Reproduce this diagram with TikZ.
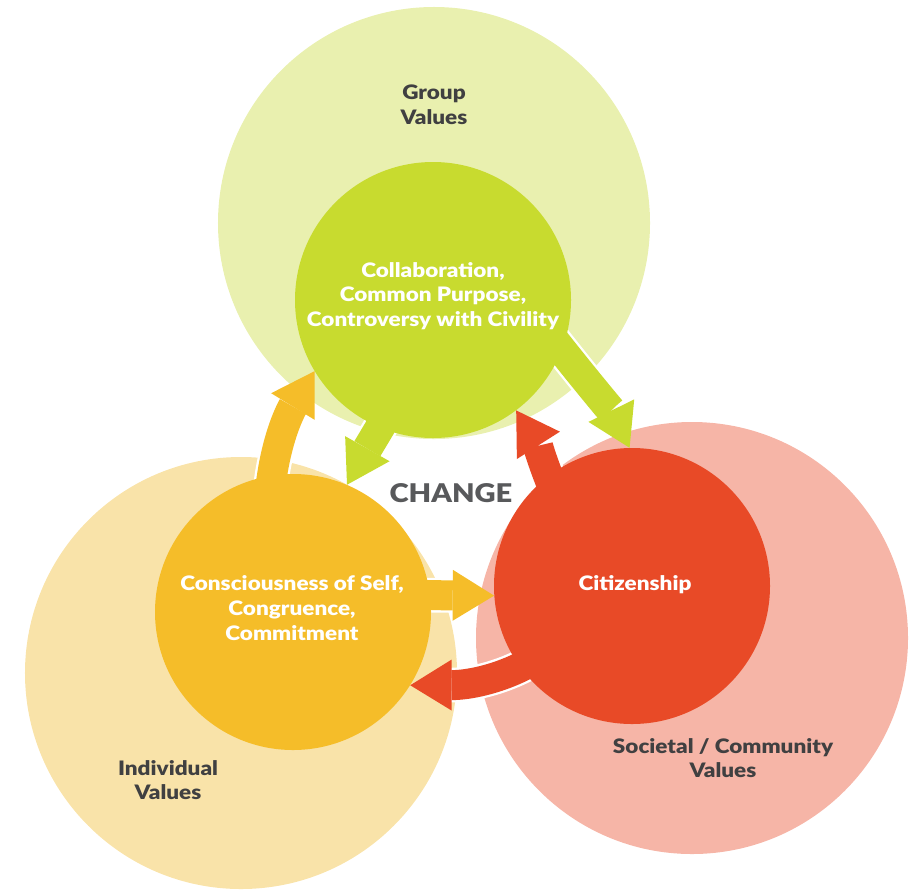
\documentclass[tikz,border=0pt]{standalone}
\usepackage{fontspec}
\setmainfont{Lato}[BoldFont={Lato Black},BoldFeatures={FakeStretch=1.13}]
\usetikzlibrary{arrows.meta, calc}
\definecolor{grpbg}{HTML}{E9F0AF}
\definecolor{indbg}{HTML}{F9E3A9}
\definecolor{socbg}{HTML}{F6B5A7}
\definecolor{collabc}{HTML}{C8DB2F}
\definecolor{selfc}{HTML}{F5BD29}
\definecolor{citzc}{HTML}{E84A27}
\definecolor{lblgray}{HTML}{404041}
\definecolor{changegray}{HTML}{58595B}

\begin{document}
\begin{tikzpicture}[x=0.03cm,y=-0.03cm,
  bigc/.style={circle,inner sep=0pt,minimum size=12.96cm},
  corec/.style={circle,inner sep=0pt,minimum size=8.28cm},
  lbl/.style={align=center,text=lblgray,font=\bfseries\fontsize{17}{21}\selectfont},
  corelbl/.style={lbl,text=white},
  halo/.style={draw=white,line width=1.04cm,shorten >=1.2cm},
  flow/.style={line width=0.9cm,-{Triangle[width=0pt 1.7,length=0pt 1.38,line width=0pt]}}]
  \useasboundingbox (0,0) rectangle (909,891);
  % value circles
  \node[bigc,fill=grpbg] (grp) at (434,223) {};
  \node[bigc,fill=indbg] (ind) at (241,673) {};
  \node[bigc,fill=socbg] (soc) at (692,638) {};
  \node[lbl] (grpTxt) at (434,105) {Group\\Values};
  \node[lbl] (indTxt) at (168,780) {Individual\\Values};
  \node[lbl] (socTxt) at (723,758) {Societal / Community\\Values};
  % core circles, placed now so the arrows can use their anchors
  \path (433,300) coordinate (collab) (293,612) coordinate (self) (632,586) coordinate (citz);
  \node[corec] (collabC) at (collab) {};
  \node[corec] (selfC) at (self) {};
  \node[corec] (citzC) at (citz) {};
  % white edges of the arrows
  \draw[halo] ($(selfC)+(-25,-82)$) .. controls (268,450) and (292,408) .. (collabC.211);
  \draw[halo] ($(collabC)+(107,22)$) .. controls (565,355) and (612,412) .. (citzC.91);
  \draw[halo] ($(collabC)+(-38,100)$) .. controls (388,415) and (370,444) .. (selfC.67);
  \draw[halo] ($(citzC)+(-67,-71)$) .. controls (552,490) and (535,440) .. (collabC.307);
  \draw[halo] ($(selfC)+(117,-17)$) -- (citzC.184);
  \draw[halo] ($(citzC)+(-72,54)$) .. controls (530,670) and (480,685) .. (selfC.328);
  % arrows
  \draw[flow,draw=selfc] ($(selfC)+(-25,-82)$) .. controls (268,450) and (292,408) .. (collabC.211);
  \draw[flow,draw=collabc] ($(collabC)+(107,22)$) .. controls (565,355) and (612,412) .. (citzC.91);
  \draw[flow,draw=collabc] ($(collabC)+(-38,100)$) .. controls (388,415) and (370,444) .. (selfC.67);
  \draw[flow,draw=citzc] ($(citzC)+(-67,-71)$) .. controls (552,490) and (535,440) .. (collabC.307);
  \draw[flow,draw=selfc] ($(selfC)+(117,-17)$) -- (citzC.184);
  \draw[flow,draw=citzc] ($(citzC)+(-72,54)$) .. controls (530,670) and (480,685) .. (selfC.328);
  % cover the arrow starts
  \fill[collabc] (collabC.center) circle[radius=138];
  \fill[selfc] (selfC.center) circle[radius=138];
  \fill[citzc] (citzC.center) circle[radius=138];
  \node[corelbl] (collabTxt) at (433,296) {Collaboration,\\Common Purpose,\\Controversy with Civility};
  \node[corelbl] (selfTxt) at (292,608) {Consciousness of Self,\\Congruence,\\Commitment};
  \node[corelbl] (citzTxt) at (635,585) {Citizenship};
  \node[text=changegray,font=\bfseries\fontsize{22}{26}\selectfont] (change) at (451,493) {CHANGE};
\end{tikzpicture}
\end{document}
